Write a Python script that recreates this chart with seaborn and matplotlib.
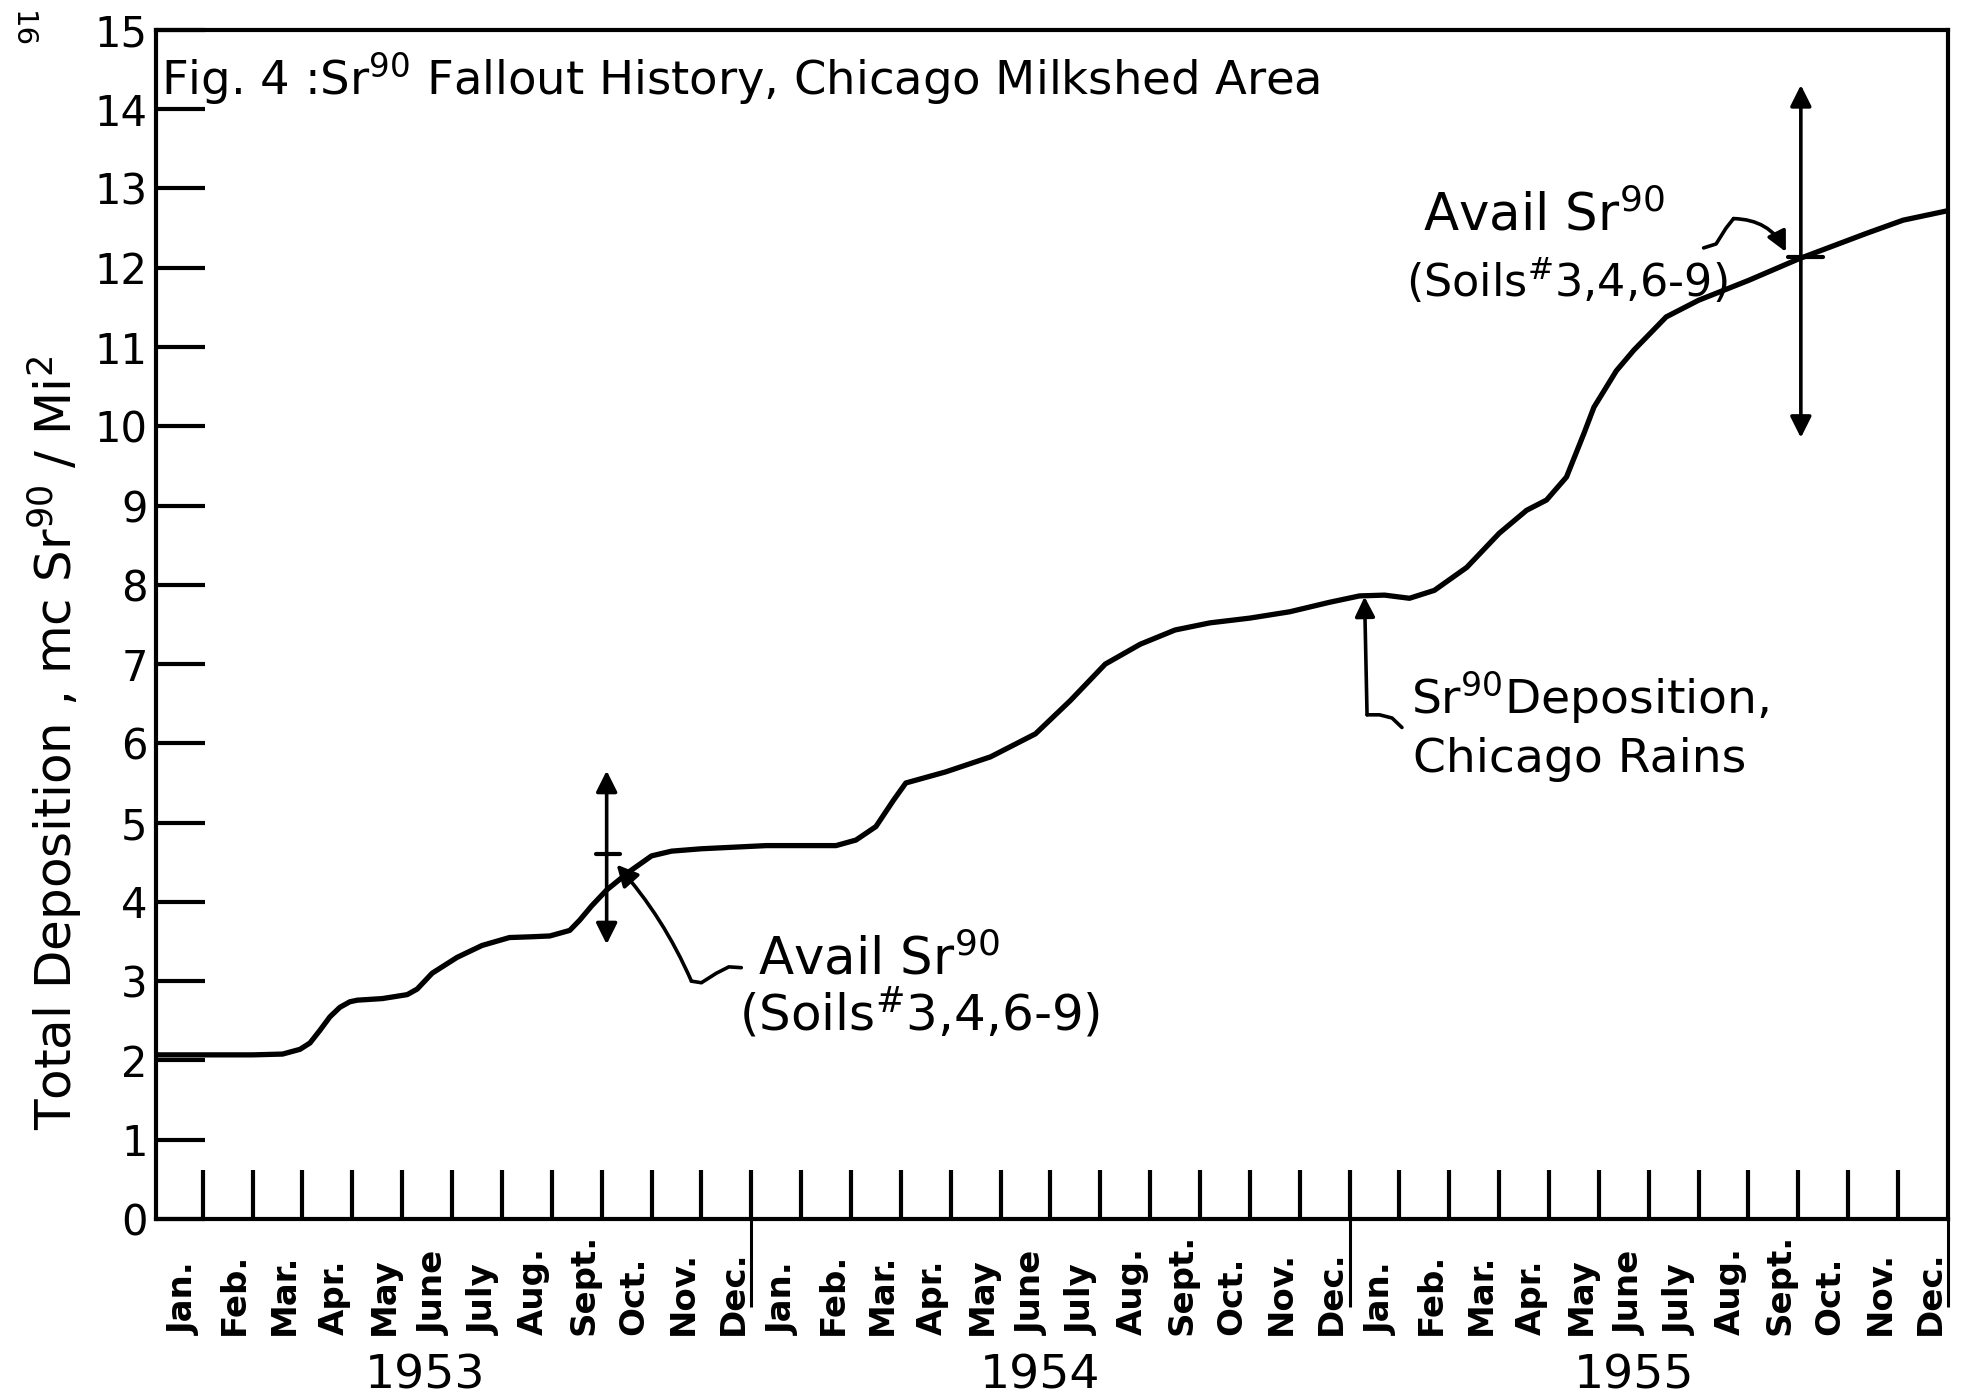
import matplotlib
matplotlib.use("Agg")
import matplotlib.pyplot as plt
import seaborn as sns
import pandas as pd

# month index: 0 = Jan. 1953 tick, 35 = Dec. 1955 tick
month_pos = [-0.94, 0.0, 1.0, 1.6, 1.95, 2.15, 2.35, 2.55, 2.75, 2.95, 3.1, 3.6, 4.1, 4.3,
             4.6, 5.1, 5.6, 6.15, 6.6, 6.96, 7.36, 7.56, 7.8, 8.1, 8.55, 9.0, 9.4, 10.0,
             11.3, 12.7, 13.1, 13.5, 13.85, 14.1, 14.9, 15.8, 16.7, 17.4, 18.1, 18.8,
             19.5, 20.2, 21.0, 21.8, 22.6, 23.2, 23.7, 24.2, 24.7, 25.35, 26.0, 26.55,
             26.95, 27.35, 27.7, 27.9, 28.35, 28.7, 29.35, 30.0, 31.0, 32.0, 33.35,
             34.1, 35.0]
deposition = [2.07, 2.07, 2.07, 2.08, 2.14, 2.22, 2.38, 2.55, 2.67, 2.74, 2.76, 2.78, 2.83, 2.9,
              3.1, 3.3, 3.45, 3.55, 3.56, 3.57, 3.64, 3.77, 3.95, 4.15, 4.38, 4.58, 4.64, 4.67,
              4.71, 4.71, 4.78, 4.95, 5.28, 5.5, 5.64, 5.83, 6.12, 6.54, 7.0, 7.25,
              7.43, 7.52, 7.58, 7.66, 7.78, 7.86, 7.87, 7.83, 7.93, 8.22, 8.65, 8.94,
              9.07, 9.36, 9.91, 10.24, 10.7, 10.96, 11.38, 11.59, 11.84, 12.11, 12.43,
              12.6, 12.72]

month_names = ["Jan.", "Feb.", "Mar.", "Apr.", "May", "June",
               "July", "Aug.", "Sept.", "Oct.", "Nov.", "Dec."]
years = ["1953", "1954", "1955"]
year_label_pos = [4.45, 16.8, 28.7]
y_ticks = list(range(0, 16))

df = pd.DataFrame({"month": month_pos, "dep": deposition})

sns.set_style("white")
plt.rcParams["font.family"] = ["DejaVu Sans"]
plt.rcParams["mathtext.fontset"] = "dejavusans"
plt.rcParams["text.color"] = "black"
plt.rcParams["axes.labelcolor"] = "black"
plt.rcParams["xtick.color"] = "black"
plt.rcParams["ytick.color"] = "black"

fig = plt.figure(figsize=(19.71, 13.99), dpi=100)
ax = fig.add_axes([0.0791, 0.1287, 0.9092, 0.8499])

sns.lineplot(data=df, x="month", y="dep", color="black", lw=3.8,
             estimator=None, sort=False, ax=ax)

ax.set_xlim(-0.94, 35)
ax.set_ylim(0, 15)
for s in ax.spines.values():
    s.set_visible(True)
    s.set_color("black")
    s.set_linewidth(3)

# y axis
ax.set_yticks(y_ticks)
ax.set_yticklabels([str(t) for t in y_ticks], fontsize=30)
ax.tick_params(axis="y", left=True, direction="in", length=35, width=3, pad=6, colors="black")
ax.set_ylabel(r"Total Deposition , mc Sr$^{90}$ / Mi$^{2}$", fontsize=36)
ax.yaxis.set_label_coords(-0.040, 0.40)

# x axis: month ticks pointing in, year-end ticks extending below
ax.xaxis.remove_overlapping_locs = False
ax.set_xticks(range(0, 35))
ax.set_xticklabels([])
ax.tick_params(axis="x", which="major", bottom=True, direction="in", length=35, width=3)
ax.set_xticks([11, 23, 35], minor=True)
ax.tick_params(axis="x", which="minor", bottom=True, direction="out", length=63, width=2.2)
ax.set_xlabel("")

for i in range(36):
    ax.text(i - 0.03, -1.46, month_names[i % 12], rotation=90, ha="right", va="bottom",
            fontsize=24.5, fontweight="bold", clip_on=False)
for yr, xp in zip(years, year_label_pos):
    ax.text(xp, -2.14, yr, ha="center", va="baseline", fontsize=34, clip_on=False)

# title inside the frame
ax.text(-0.84, 14.19, r"Fig. 4 :Sr$^{90}$ Fallout History, Chicago Milkshed Area",
        fontsize=33.5, va="baseline", ha="left")

# 1953 availability marker
ax.annotate("", xy=(8.1, 5.69), xytext=(8.1, 3.43),
            arrowprops=dict(arrowstyle="<|-|>", lw=2.6, color="black", mutation_scale=32))
ax.plot([7.88, 8.37], [4.61, 4.61], color="black", lw=3)
ax.plot([10.8, 10.55, 10.3, 10.0, 9.8], [3.17, 3.18, 3.1, 2.98, 3.0], color="black", lw=2.6)
ax.annotate("", xy=(8.3, 4.47), xytext=(9.8, 3.0),
            arrowprops=dict(arrowstyle="-|>", lw=2.6, color="black", mutation_scale=32,
                            connectionstyle="arc3,rad=0.08", shrinkA=0, shrinkB=0))
ax.text(11.13, 3.09, r"Avail Sr$^{90}$", fontsize=37, va="baseline", ha="left")
ax.text(10.75, 2.37, r"(Soils$^{\#}$3,4,6-9)", fontsize=36, va="baseline", ha="left")

# 1955 availability marker
ax.annotate("", xy=(32.05, 14.34), xytext=(32.05, 9.82),
            arrowprops=dict(arrowstyle="<|-|>", lw=2.6, color="black", mutation_scale=32))
ax.plot([31.8, 32.5], [12.13, 12.13], color="black", lw=3)
ax.plot([30.1, 30.35, 30.55, 30.7], [12.25, 12.3, 12.5, 12.62], color="black", lw=2.6)
ax.annotate("", xy=(31.75, 12.2), xytext=(30.7, 12.62),
            arrowprops=dict(arrowstyle="-|>", lw=2.6, color="black", mutation_scale=30,
                            connectionstyle="arc3,rad=-0.3", shrinkA=0, shrinkB=0))
ax.text(24.47, 12.47, r"Avail Sr$^{90}$", fontsize=37, va="baseline", ha="left")
ax.text(24.13, 11.63, r"(Soils$^{\#}$3,4,6-9)", fontsize=32, va="baseline", ha="left")

# Chicago rains marker
ax.annotate("", xy=(23.3, 7.85), xytext=(23.35, 6.36),
            arrowprops=dict(arrowstyle="-|>", lw=2.6, color="black", mutation_scale=30,
                            shrinkA=0, shrinkB=0))
ax.plot([23.35, 23.6, 23.85, 24.05], [6.36, 6.36, 6.32, 6.2], color="black", lw=2.6)
ax.text(24.23, 6.38, r"Sr$^{90}$Deposition,", fontsize=34, va="baseline", ha="left")
ax.text(24.27, 5.64, "Chicago Rains", fontsize=34, va="baseline", ha="left")

# page number from the scan
fig.text(0.004, 0.992, "16", rotation=-90, fontsize=21, va="top", ha="left")

fig.savefig("out.png", dpi=100, facecolor="white")
